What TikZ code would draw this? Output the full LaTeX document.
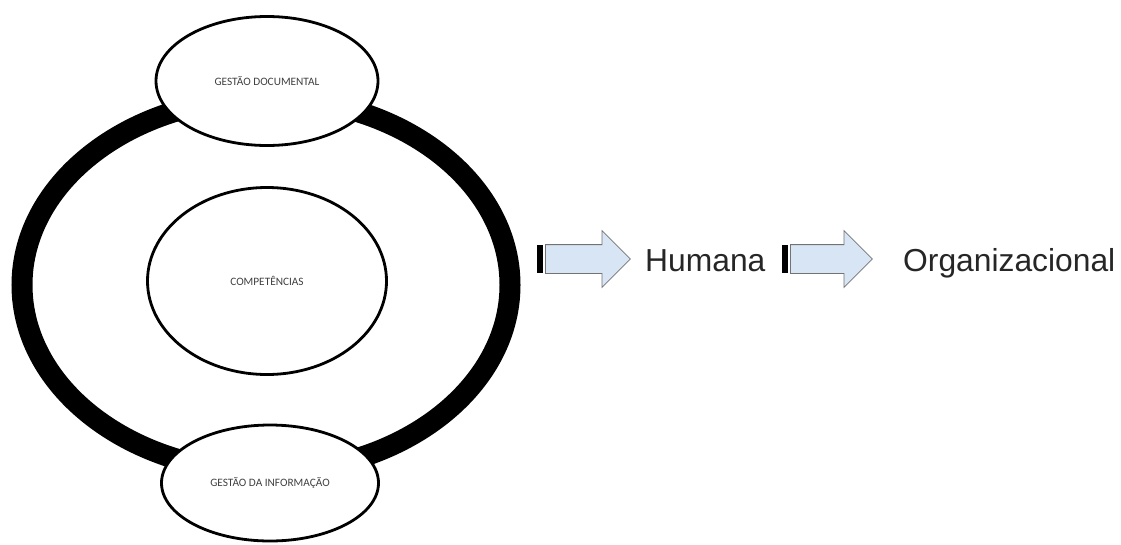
\documentclass[tikz,border=0pt]{standalone}
\usepackage{fontspec}
\setmainfont{Carlito}
\newfontfamily\arialfont{Liberation Sans}
\usetikzlibrary{shapes.geometric,shapes.arrows,positioning}
\definecolor{setaazul}{RGB}{216,229,245}

\begin{document}
\begin{tikzpicture}
	[x=1pt, y=-1pt,
		anel/.style		={ellipse
									, draw=black
									, line width=21pt
									, minimum width=488pt
									, minimum height=374pt
									, inner sep=0pt
									},
		bolha/.style	={ellipse
									, draw=black
									, line width=2.8pt
									, fill=white
									, inner sep=0pt
									, text=black!75
									, font=\fontsize{11.3}{13}\selectfont
									},
		seta/.style		={single arrow
									, draw=black!55
									, line width=0.8pt
									, fill=setaazul
									, single arrow head extend=14pt
									, inner xsep=0pt
									, inner ysep=14pt
									, anchor=tail
									},
		barra/.style	={rectangle
									, fill=black
									, minimum width=6pt
									, minimum height=28pt
									, inner sep=0pt
									, anchor=west
									},
		rotulo/.style	={font=\arialfont\fontsize{31.8}{36}\selectfont
									, text=black!85
									, inner sep=0pt
									, anchor=base west
									}
	]
\useasboundingbox (0,0) rectangle (1121,544);
% ring and its three bubbles
\node [anel] (anel) at (266,285) {};
\node [bolha, minimum width=239pt, minimum height=187pt] (competencias) at (267,281) {COMPETÊNCIAS};
\node [bolha, minimum width=222pt, minimum height=129pt] (documental) at (267,81) {GESTÃO DOCUMENTAL};
\node [bolha, minimum width=217pt, minimum height=116pt] (informacao) at (270,483) {GESTÃO DA INFORMAÇÃO};
% arrows and labels
\node [barra] (barra 1) at (537,259) {};
\node [seta, minimum height=85pt] (seta 1) at (545,259) {};
\node [rotulo] (humana) at (645,271) {Humana};
\node [barra] (barra 2) at (782,259) {};
\node [seta, minimum height=82pt] (seta 2) at (790,259) {};
\node [rotulo] (organizacional) at (903,271) {Organizacional};
\end{tikzpicture}
\end{document}
